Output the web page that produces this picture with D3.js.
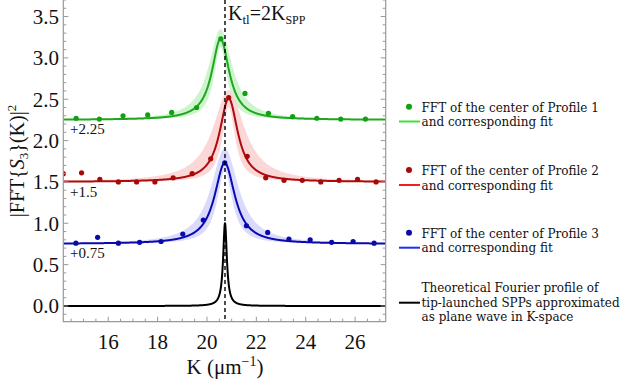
<!DOCTYPE html>
<html>
<head>
<meta charset="utf-8">
<script src="https://cdn.jsdelivr.net/npm/d3@7"></script>
<style>
  body { margin: 0; background: #fff; }
  svg text { font-family: "Liberation Serif", "DejaVu Serif", serif; fill: #111; }
  svg text.leg { font-family: "DejaVu Serif", serif; }
</style>
</head>
<body>
<div id="chart"></div>
<script>
//// measured points (K in um^-1, value already offset)
const k1 = [14.70, 15.64, 16.60, 17.60, 18.57, 19.58, 20.56, 21.54, 22.49, 23.47, 24.45, 25.42, 26.42];
const v1 = [2.27, 2.26, 2.30, 2.31, 2.34, 2.40, 3.23, 2.57, 2.33, 2.29, 2.27, 2.26, 2.26];
const k2 = [14.18, 14.92, 15.66, 16.41, 17.15, 17.89, 18.63, 19.40, 20.15, 20.88, 21.63, 22.38, 23.12, 23.86, 24.61, 25.35, 26.10, 26.85];
const v2 = [1.60, 1.61, 1.53, 1.50, 1.50, 1.50, 1.55, 1.60, 1.78, 2.52, 1.81, 1.55, 1.52, 1.52, 1.50, 1.52, 1.53, 1.50];
const k3 = [14.69, 15.57, 16.41, 17.27, 18.14, 19.02, 19.85, 20.72, 21.60, 22.46, 23.32, 24.18, 25.05, 25.92, 26.77];
const v3 = [0.76, 0.83, 0.76, 0.77, 0.78, 0.87, 1.04, 1.73, 0.97, 0.89, 0.81, 0.80, 0.77, 0.78, 0.76];

//// lorentzian fits: [offset, amplitude, center, hwhm]
const fit1 = [2.25, 0.98, 20.55, 0.43];
const fit2 = [1.50, 1.01, 20.88, 0.45];
const fit3 = [0.75, 0.98, 20.72, 0.50];
const theory = [0, 1.0, 20.73, 0.09];
//// band envelopes: [amp factor, width factor] upper / lower
const band1 = [[1.12, 1.35], [0.9, 0.75]];
const band2 = [[1.10, 1.7], [0.9, 0.7]];
const band3 = [[1.18, 1.35], [0.9, 0.75]];

const offsets = ['+2.25', '+1.5', '+0.75'];
const xTicks = [16, 18, 20, 22, 24, 26];
const yTicks = [0.0, 0.5, 1.0, 1.5, 2.0, 2.5, 3.0, 3.5];
const kLine = 20.73;

const W = 623, H = 382;
const pL = 63.3, pR = 385.7, pT = 0, pB = 321.7;

const x = d3.scaleLinear().domain([14.18, 27.24]).range([pL, pR]);
const y = d3.scaleLinear().domain([-0.19, 3.70]).range([pB, pT]);

const lor = (p, k, af = 1, gf = 1) => p[0] + p[1] * af / (1 + Math.pow((k - p[2]) / (p[3] * gf), 2));

const grid = d3.range(14.18, 27.25, 0.01);

const svg = d3.select('#chart').append('svg')
  .attr('width', W).attr('height', H);

svg.append('defs').append('clipPath').attr('id', 'clip')
  .append('rect').attr('x', pL).attr('y', pT).attr('width', pR - pL).attr('height', pB - pT);
const plot = svg.append('g').attr('clip-path', 'url(#clip)');

const series = [
  { k: k1, v: v1, fit: fit1, band: band1, line: '#1fa81f', dot: '#12a012', fill: '#c4f2c4', leg: '#3ee03e' },
  { k: k2, v: v2, fit: fit2, band: band2, line: '#b00a0a', dot: '#a80808', fill: '#fbd0d0', leg: '#ee2020' },
  { k: k3, v: v3, fit: fit3, band: band3, line: '#0a0ab0', dot: '#0a0aa8', fill: '#d2d4fb', leg: '#2030ee' }
];

//// bands first
series.forEach(s => {
  const area = d3.area()
    .x(k => x(k))
    .y0(k => y(Math.min(lor(s.fit, k, s.band[1][0], s.band[1][1]), lor(s.fit, k))))
    .y1(k => y(Math.max(lor(s.fit, k, s.band[0][0], s.band[0][1]), lor(s.fit, k))));
  plot.append('path').attr('d', area(grid))
    .attr('fill', s.fill).attr('opacity', 0.85);
});

const line = p => d3.line().x(k => x(k)).y(k => y(lor(p, k)));

series.forEach(s => {
  plot.append('path').attr('d', line(s.fit)(grid))
    .attr('fill', 'none').attr('stroke', s.line).attr('stroke-width', 2);
  plot.selectAll(null).data(s.k).enter().append('circle')
    .attr('cx', d => x(d)).attr('cy', (d, i) => y(s.v[i])).attr('r', 2.6)
    .attr('fill', s.dot);
});

plot.append('path').attr('d', line(theory)(d3.range(14.18, 27.25, 0.002)))
  .attr('fill', 'none').attr('stroke', '#000').attr('stroke-width', 2);

//// dashed marker
plot.append('line')
  .attr('x1', x(kLine)).attr('x2', x(kLine)).attr('y1', pT).attr('y2', pB)
  .attr('stroke', '#000').attr('stroke-width', 1.4).attr('stroke-dasharray', '4,3');

//// frame and ticks
const frame = svg.append('g').attr('stroke', '#999').attr('fill', 'none');
frame.append('path')
  .attr('d', `M${pL},${pT}V${pB}H${pR}V${pT}`)
  .attr('stroke-width', 1.2);

d3.range(14.5, 27.2, 0.5).forEach(k => {
  const major = Math.abs(k % 2) < 1e-6;
  frame.append('line').attr('x1', x(k)).attr('x2', x(k))
    .attr('y1', pB).attr('y2', pB - (major ? 5 : 3));
});
d3.range(-0.1, 3.71, 0.1).forEach(v => {
  const major = Math.abs(Math.round(v * 10) % 5) === 0;
  const len = major ? 5 : 3;
  frame.append('line').attr('x1', pL).attr('x2', pL + len).attr('y1', y(v)).attr('y2', y(v));
  frame.append('line').attr('x1', pR).attr('x2', pR - len).attr('y1', y(v)).attr('y2', y(v));
});

svg.selectAll('.xt').data(xTicks).enter().append('text')
  .attr('x', d => x(d)).attr('y', 348.5)
  .attr('text-anchor', 'middle').attr('font-size', 21)
  .text(d => d);

svg.selectAll('.yt').data(yTicks).enter().append('text')
  .attr('x', 59).attr('y', d => y(d) + 7.5)
  .attr('text-anchor', 'end').attr('font-size', 21)
  .text(d => d3.format('.1f')(d));

//// axis titles
const xt = svg.append('text').attr('x', 225).attr('y', 374)
  .attr('text-anchor', 'middle').attr('font-size', 21);
xt.append('tspan').text('K (μm');
xt.append('tspan').attr('dy', -8).attr('font-size', 14).text('−1');
xt.append('tspan').attr('dy', 8).text(')');

const yt = svg.append('text')
  .attr('transform', 'translate(24,161) rotate(-90)')
  .attr('text-anchor', 'middle').attr('font-size', 20);
yt.append('tspan').text('|FFT{');
yt.append('tspan').attr('font-style', 'italic').text('S');
yt.append('tspan').attr('dy', 4).attr('font-size', 13).text('3');
yt.append('tspan').attr('dy', -4).text('}(K)|');
yt.append('tspan').attr('dy', -8).attr('font-size', 13).text('2');

//// K_tl annotation
const ann = svg.append('text').attr('x', 228).attr('y', 20).attr('font-size', 20);
ann.append('tspan').text('K');
ann.append('tspan').attr('dy', 4).attr('font-size', 13).text('tl');
ann.append('tspan').attr('dy', -4).text('=2K');
ann.append('tspan').attr('dy', 4).attr('font-size', 12).text('SPP');

//// offset labels
const offY = [134, 197, 257.5];
offsets.forEach((t, i) => {
  svg.append('text').attr('x', 70).attr('y', offY[i]).attr('font-size', 15).text(t);
});

//// legend
const legend = [
  { dotY: 106.7, lineY: 121.5, texts: ['FFT of the center of Profile 1', 'and corresponding fit'], base: 111.5 },
  { dotY: 170, lineY: 185, texts: ['FFT of the center of Profile 2', 'and corresponding fit'], base: 175 },
  { dotY: 232.7, lineY: 247.7, texts: ['FFT of the center of Profile 3', 'and corresponding fit'], base: 237.5 },
  { dotY: null, lineY: 302.7, texts: ['Theoretical Fourier profile of', 'tip-launched SPPs approximated', 'as plane wave in K-space'], base: 292 }
];
legend.forEach((l, i) => {
  const s = series[i];
  if (l.dotY !== null) {
    svg.append('circle').attr('cx', 409).attr('cy', l.dotY).attr('r', 3).attr('fill', s.dot);
  }
  svg.append('line').attr('x1', 399).attr('x2', 420).attr('y1', l.lineY).attr('y2', l.lineY)
    .attr('stroke', s ? s.leg : '#000').attr('stroke-width', 2);
  l.texts.forEach((t, j) => {
    svg.append('text').attr('class', 'leg').attr('x', 421.5).attr('y', l.base + j * 14.5)
      .attr('font-size', 12).text(t);
  });
});
</script>
</body>
</html>
